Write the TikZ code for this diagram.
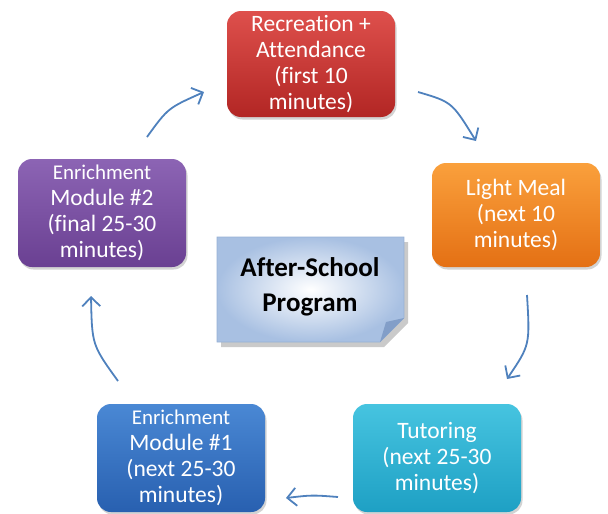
\documentclass[tikz,border=0pt]{standalone}
\usepackage{fontspec}
\setmainfont{Carlito}[Ligatures=NoCommon]
\usetikzlibrary{shadows,arrows.meta}
\definecolor{arr}{HTML}{4F81BD}
\definecolor{redT}{RGB}{222,80,76}\definecolor{redB}{RGB}{178,38,36}
\definecolor{orT}{RGB}{250,160,60}\definecolor{orB}{RGB}{228,112,20}
\definecolor{puT}{RGB}{140,100,180}\definecolor{puB}{RGB}{106,64,146}
\definecolor{blT}{RGB}{74,136,212}\definecolor{blB}{RGB}{40,96,176}
\definecolor{cyT}{RGB}{70,196,224}\definecolor{cyB}{RGB}{30,160,196}
\definecolor{noteOut}{RGB}{168,192,226}
\definecolor{noteLine}{RGB}{150,176,212}
\definecolor{noteFold}{RGB}{130,158,200}
\begin{document}
\begin{tikzpicture}[x=1pt,y=-1pt,
  box/.style={rounded corners=14pt, minimum width=168pt, minimum height=106pt,
    text width=160pt, align=flush center, inner sep=0pt,
    font=\fontsize{23.5}{26}\selectfont,
    text=white, drop shadow={shadow xshift=1.5pt, shadow yshift=-2.5pt, opacity=0.35}},
  conn/.style={draw=arr, line width=1.8pt, -{Straight Barb[length=9pt,width=18pt]}}]
\useasboundingbox (0,0) rectangle (608,514);

\node[box, top color=redT, bottom color=redB] (rec) at (311,64)
  {Recreation +\\Attendance\\(first 10\\minutes)};
\node[box, minimum height=104pt, top color=orT, bottom color=orB] (meal) at (516,215)
  {Light Meal\\(next 10\\minutes)};
\node[box, minimum height=108pt, top color=puT, bottom color=puB] (em2) at (102,213)
  {{\fontsize{21}{24}\selectfont Enrichment}\\Module \#2\\(final 25-30\\minutes)};
\node[box, minimum height=108pt, top color=blT, bottom color=blB] (em1) at (181,458)
  {{\fontsize{21}{24}\selectfont Enrichment}\\Module \#1\\(next 25-30\\minutes)};
\node[box, minimum height=108pt, top color=cyT, bottom color=cyB] (tut) at (437,458)
  {Tutoring\\(next 25-30\\minutes)};

% central note
\fill[gray!70, opacity=0.6] (221,242) -- (408,242) -- (408,323) -- (384,347) -- (221,347) -- cycle;
\shade[inner color=white, outer color=noteOut] (217,237) -- (404,237) -- (404,318) -- (380,342) -- (217,342) -- cycle;
\draw[noteLine, line width=0.6pt] (217,237) -- (404,237) -- (404,318) -- (380,342) -- (217,342) -- cycle;
\fill[noteFold] (404,318) -- (380,342) -- (386,322) -- cycle;
\node[font=\fontsize{27}{35}\selectfont\bfseries, align=flush center] (prog) at (310,287) {After-School\\Program};

% connectors
\coordinate (a1s) at (418,92);  \coordinate (a1e) at (476,141);
\coordinate (a2s) at (527,295); \coordinate (a2e) at (507,379);
\coordinate (a3s) at (338,497); \coordinate (a3e) at (286,498);
\coordinate (a4s) at (118,381); \coordinate (a4e) at (91,296);
\coordinate (a5s) at (147,137); \coordinate (a5e) at (204,92);
\draw[conn] (a1s) .. controls (452,102) .. (a1e);
\draw[conn] (a2s) .. controls (530,345) .. (a2e);
\draw[conn] (a3s) .. controls (312,495) .. (a3e);
\draw[conn] (a4s) .. controls (92,345) .. (a4e);
\draw[conn] (a5s) .. controls (168,108) .. (a5e);
\end{tikzpicture}
\end{document}
